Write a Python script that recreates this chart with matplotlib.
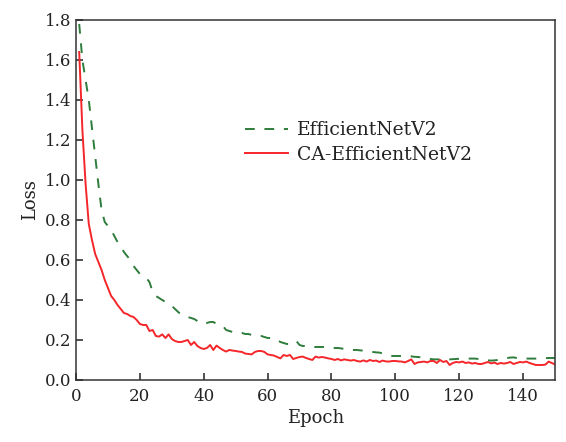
import numpy as np
import matplotlib
matplotlib.use("Agg")
import matplotlib.pyplot as plt

plt.rcParams['font.family'] = ['DejaVu Serif']

epochs = np.arange(1, 151)

effnet_loss = [
    1.78, 1.60, 1.50, 1.40, 1.26, 1.12, 0.98, 0.85, 0.79, 0.77,
    0.75, 0.72, 0.69, 0.67, 0.64, 0.62, 0.60, 0.57, 0.55, 0.53,
    0.52, 0.51, 0.49, 0.44, 0.42, 0.41, 0.40, 0.39, 0.38, 0.37,
    0.355, 0.34, 0.325, 0.32, 0.315, 0.31, 0.305, 0.295, 0.285, 0.28,
    0.285, 0.29, 0.29, 0.28, 0.275, 0.27, 0.25, 0.245, 0.24, 0.24,
    0.235, 0.235, 0.23, 0.23, 0.225, 0.22, 0.22, 0.22, 0.215, 0.21,
    0.21, 0.21, 0.20, 0.19, 0.185, 0.18, 0.18, 0.19, 0.195, 0.175,
    0.17, 0.17, 0.165, 0.165, 0.165, 0.165, 0.165, 0.165, 0.165, 0.163,
    0.16, 0.16, 0.158, 0.155, 0.155, 0.152, 0.15, 0.15, 0.148, 0.147,
    0.145, 0.143, 0.14, 0.138, 0.137, 0.133, 0.128, 0.124, 0.12, 0.12,
    0.12, 0.12, 0.12, 0.12, 0.118, 0.116, 0.115, 0.113, 0.112, 0.11,
    0.105, 0.103, 0.103, 0.103, 0.103, 0.103, 0.103, 0.104, 0.105, 0.106,
    0.107, 0.107, 0.107, 0.107, 0.107, 0.105, 0.103, 0.10, 0.098, 0.097,
    0.098, 0.10, 0.103, 0.106, 0.11, 0.112, 0.113, 0.11, 0.108, 0.107,
    0.107, 0.107, 0.107, 0.107, 0.107, 0.108, 0.109, 0.11, 0.11, 0.11,
]

ca_effnet_loss = [
    1.64, 1.25, 0.98, 0.78, 0.70, 0.63, 0.59, 0.55, 0.50, 0.46,
    0.42, 0.40, 0.375, 0.355, 0.335, 0.33, 0.32, 0.315, 0.30, 0.28,
    0.275, 0.275, 0.245, 0.25, 0.22, 0.217, 0.228, 0.21, 0.228, 0.205,
    0.195, 0.19, 0.19, 0.195, 0.20, 0.175, 0.19, 0.17, 0.16, 0.155,
    0.16, 0.175, 0.15, 0.172, 0.16, 0.15, 0.142, 0.15, 0.147, 0.145,
    0.142, 0.14, 0.132, 0.13, 0.128, 0.14, 0.145, 0.145, 0.14, 0.128,
    0.125, 0.122, 0.115, 0.108, 0.125, 0.12, 0.125, 0.105, 0.11, 0.115,
    0.117, 0.11, 0.105, 0.10, 0.117, 0.112, 0.115, 0.112, 0.108, 0.105,
    0.10, 0.105, 0.098, 0.103, 0.10, 0.097, 0.10, 0.095, 0.092, 0.098,
    0.092, 0.10, 0.095, 0.097, 0.09, 0.097, 0.093, 0.092, 0.095, 0.095,
    0.093, 0.092, 0.088, 0.095, 0.103, 0.08, 0.088, 0.09, 0.092, 0.088,
    0.095, 0.095, 0.085, 0.10, 0.09, 0.095, 0.075, 0.085, 0.09, 0.088,
    0.092, 0.085, 0.088, 0.082, 0.085, 0.08, 0.08, 0.085, 0.09, 0.083,
    0.087, 0.08, 0.085, 0.082, 0.085, 0.09, 0.08, 0.085, 0.09, 0.088,
    0.092, 0.085, 0.08, 0.075, 0.075, 0.075, 0.077, 0.092, 0.085, 0.078,
]

fig = plt.figure(figsize=(5.66, 4.42), dpi=100)
ax = fig.add_axes([0.1343, 0.1403, 0.8463, 0.8145])

ax.plot(epochs, effnet_loss, color='#2e7d3c', linestyle=(0, (5, 5)), linewidth=1.4,
        label='EfficientNetV2')
ax.plot(epochs, ca_effnet_loss, color='#f5262a', linestyle='-', linewidth=1.4,
        label='CA-EfficientNetV2')

ax.set_xlim(0, 150)
ax.set_ylim(0, 1.8)
ax.set_xticks(np.arange(0, 141, 20))
ax.set_yticks(np.arange(0, 1.81, 0.2))
ax.yaxis.set_major_formatter(matplotlib.ticker.FormatStrFormatter('%.1f'))

ax.set_xlabel('Epoch', fontsize=13, labelpad=3, color='#222222')
ax.set_ylabel('Loss', fontsize=13, labelpad=4, color='#222222')
ax.tick_params(direction='in', length=5, width=1.1, labelsize=12, colors='#222222',
               top=False, right=False)
ax.tick_params(axis='x', pad=6)
for s in ax.spines.values():
    s.set_linewidth(1.1)
    s.set_color('#333333')

ax.legend(loc='upper left', bbox_to_anchor=(0.318, 0.765), frameon=False,
          fontsize=13.5, handlelength=2.3, handletextpad=0.45, labelspacing=0.35,
          labelcolor='#222222')

fig.savefig('out.png', dpi=100)
